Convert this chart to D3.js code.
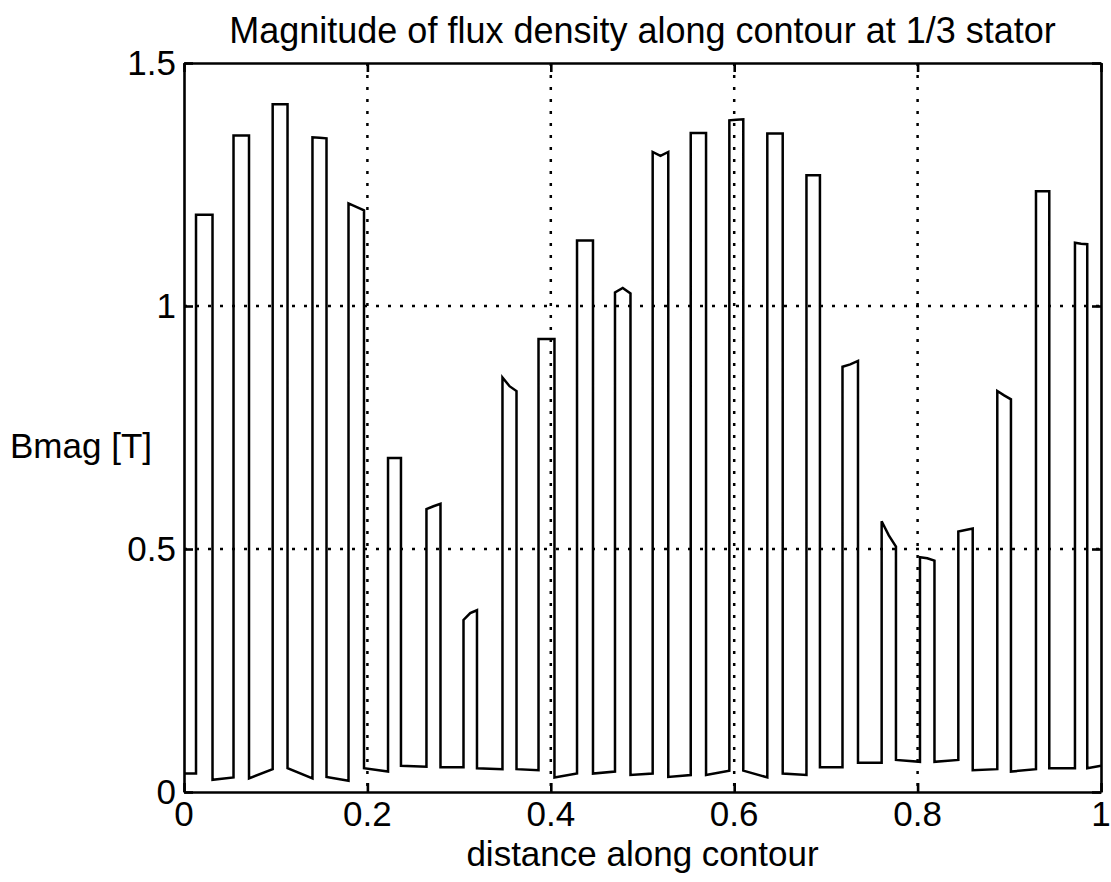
<!DOCTYPE html>
<html>
<head>
<meta charset="utf-8">
<script src="https://cdn.jsdelivr.net/npm/d3@7"></script>
<style>
  body { margin: 0; background: #fff; }
  text { font-family: "Liberation Sans", Arial, sans-serif; fill: #000; }
</style>
</head>
<body>
<script>
// pulse edges along the contour (0..1) and the flux density on top of each pulse [T]
var riseX = [0.0131, 0.0540, 0.0967, 0.1401, 0.1794, 0.2225, 0.2644, 0.3048, 0.3473, 0.3866, 0.4286, 0.4700,
             0.5111, 0.5526, 0.5947, 0.6361, 0.6788, 0.7181, 0.7608, 0.8026, 0.8444, 0.8869, 0.9291, 0.9716];
var fallX = [0.0311, 0.0709, 0.1129, 0.1554, 0.1963, 0.2366, 0.2797, 0.3195, 0.3626, 0.4040, 0.4460, 0.4869,
             0.5281, 0.5693, 0.6099, 0.6529, 0.6935, 0.7350, 0.7764, 0.8184, 0.8601, 0.9018, 0.9436, 0.9850];
var topLeft  = [1.188, 1.351, 1.415, 1.347, 1.211, 0.687, 0.582, 0.354, 0.853, 0.932, 1.135, 1.028,
                1.317, 1.356, 1.382, 1.355, 1.269, 0.875, 0.557, 0.483, 0.536, 0.825, 1.236, 1.130];
var topMid   = [1.188, 1.351, 1.415, 1.346, 1.204, 0.687, 0.588, 0.368, 0.835, 0.932, 1.135, 1.037,
                1.309, 1.356, 1.383, 1.355, 1.269, 0.880, 0.528, 0.481, 0.539, 0.816, 1.236, 1.128];
var topRight = [1.188, 1.351, 1.415, 1.345, 1.197, 0.687, 0.593, 0.374, 0.825, 0.932, 1.135, 1.026,
                1.317, 1.356, 1.384, 1.355, 1.269, 0.887, 0.505, 0.476, 0.542, 0.808, 1.236, 1.127];
// flux density in the gaps between pulses (start and end of each gap)
var gapLeft  = [0.038, 0.025, 0.028, 0.049, 0.031, 0.049, 0.054, 0.051, 0.049, 0.047, 0.030, 0.038, 0.035,
                0.031, 0.035, 0.044, 0.038, 0.051, 0.060, 0.066, 0.062, 0.045, 0.042, 0.049, 0.049];
var gapRight = [0.038, 0.030, 0.047, 0.028, 0.023, 0.042, 0.052, 0.051, 0.047, 0.045, 0.038, 0.042, 0.038,
                0.035, 0.044, 0.030, 0.035, 0.051, 0.060, 0.062, 0.066, 0.047, 0.047, 0.049, 0.054];

var xTicks = [0, 0.2, 0.4, 0.6, 0.8, 1];
var xTickLabels = ["0", "0.2", "0.4", "0.6", "0.8", "1"];
var yTicks = [0, 0.5, 1, 1.5];
var yTickLabels = ["0", "0.5", "1", "1.5"];

function drawChart() {
    var w = 1111;
    var h = 882;
    var left = 184, right = 1101, top = 63, bottom = 792;

    var x = d3.scaleLinear().domain([0, 1]).range([left, right]);
    var y = d3.scaleLinear().domain([0, 1.5]).range([bottom, top]);

    // build the trace from the arrays
    var pts = [[0, gapLeft[0]]];
    for (var i = 0; i < riseX.length; i++) {
        pts.push([riseX[i], gapRight[i]]);
        pts.push([riseX[i], topLeft[i]]);
        pts.push([(riseX[i] + fallX[i]) / 2, topMid[i]]);
        pts.push([fallX[i], topRight[i]]);
        pts.push([fallX[i], gapLeft[i + 1]]);
    }
    pts.push([1, gapRight[gapRight.length - 1]]);

    var svg = d3.select("body")
        .append("svg")
        .attr("width", w)
        .attr("height", h);

    // dotted grid
    svg.selectAll(".vgrid")
        .data(xTicks.slice(1, -1))
        .enter()
        .append("line")
        .attr("x1", function(d) { return x(d); })
        .attr("x2", function(d) { return x(d); })
        .attr("y1", top)
        .attr("y2", bottom)
        .attr("stroke", "#000")
        .attr("stroke-width", 2.5)
        .attr("stroke-dasharray", "3,9");

    svg.selectAll(".hgrid")
        .data(yTicks.slice(1, -1))
        .enter()
        .append("line")
        .attr("x1", left)
        .attr("x2", right)
        .attr("y1", function(d) { return y(d); })
        .attr("y2", function(d) { return y(d); })
        .attr("stroke", "#000")
        .attr("stroke-width", 2.5)
        .attr("stroke-dasharray", "3,9");

    // the curve
    var line = d3.line()
        .x(function(d) { return x(d[0]); })
        .y(function(d) { return y(d[1]); });

    svg.append("path")
        .datum(pts)
        .attr("d", line)
        .attr("fill", "none")
        .attr("stroke", "#000")
        .attr("stroke-width", 2.5)
        .attr("stroke-linejoin", "miter");

    // axes, MATLAB style box with inward ticks
    var xAxisB = d3.axisBottom(x).tickValues(xTicks).tickSizeInner(-9).tickSizeOuter(0).tickFormat("");
    var xAxisT = d3.axisTop(x).tickValues(xTicks).tickSizeInner(-9).tickSizeOuter(0).tickFormat("");
    var yAxisL = d3.axisLeft(y).tickValues(yTicks).tickSizeInner(-9).tickSizeOuter(0).tickFormat("");
    var yAxisR = d3.axisRight(y).tickValues(yTicks).tickSizeInner(-9).tickSizeOuter(0).tickFormat("");

    svg.append("g").attr("transform", "translate(0," + bottom + ")").call(xAxisB);
    svg.append("g").attr("transform", "translate(0," + top + ")").call(xAxisT);
    svg.append("g").attr("transform", "translate(" + left + ",0)").call(yAxisL);
    svg.append("g").attr("transform", "translate(" + right + ",0)").call(yAxisR);
    svg.selectAll(".domain, .tick line")
        .attr("stroke", "#000")
        .attr("stroke-width", 2.6);

    // tick labels
    svg.selectAll(".xlab")
        .data(xTicks)
        .enter()
        .append("text")
        .text(function(d, i) { return xTickLabels[i]; })
        .attr("x", function(d) { return x(d); })
        .attr("y", bottom + 34)
        .attr("font-size", "35px")
        .attr("text-anchor", "middle");

    svg.selectAll(".ylab")
        .data(yTicks)
        .enter()
        .append("text")
        .text(function(d, i) { return yTickLabels[i]; })
        .attr("x", left - 8)
        .attr("y", function(d) { return y(d) + 12; })
        .attr("font-size", "35px")
        .attr("text-anchor", "end");

    // title and axis labels
    svg.append("text")
        .text("Magnitude of flux density along contour at 1/3 stator")
        .attr("x", (left + right) / 2)
        .attr("y", 43)
        .attr("font-size", "36px")
        .attr("text-anchor", "middle");

    svg.append("text")
        .text("distance along contour")
        .attr("x", (left + right) / 2)
        .attr("y", 866)
        .attr("font-size", "35px")
        .attr("text-anchor", "middle");

    svg.append("text")
        .text("Bmag [T]")
        .attr("x", 152)
        .attr("y", 458)
        .attr("font-size", "35px")
        .attr("text-anchor", "end");
}

drawChart();
</script>
</body>
</html>
